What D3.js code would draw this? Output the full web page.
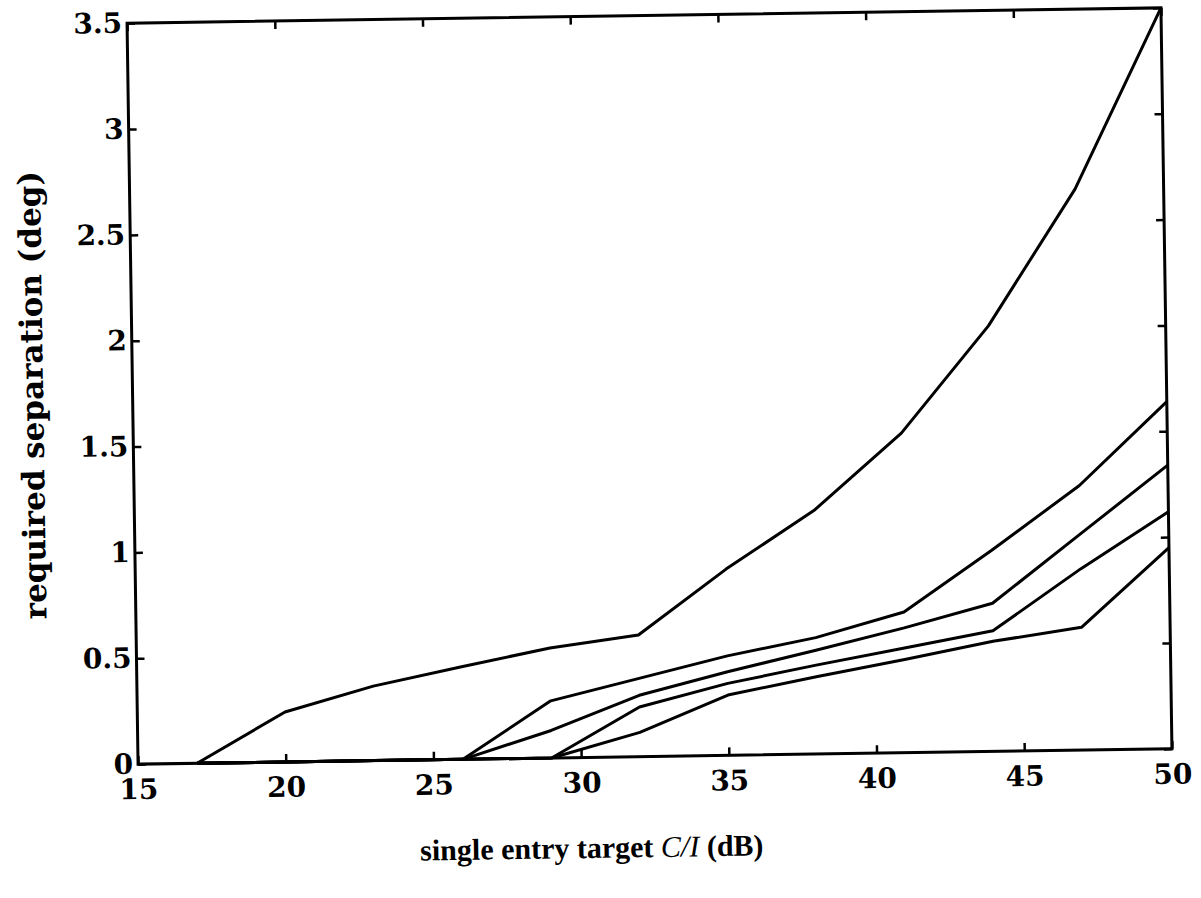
<!DOCTYPE html>
<html>
<head>
<meta charset="utf-8">
<script src="https://cdn.jsdelivr.net/npm/d3@7"></script>
<style>
  body { margin: 0; background: #fff; }
  svg { display: block; }
  .tick-label { font-family: 'DejaVu Serif', 'Liberation Serif', serif; font-weight: bold; fill: #000; }
</style>
</head>
<body>
<svg width="1201" height="898"></svg>
<script>
// C/I values (dB) where each curve is sampled
var ciValues = [17, 20, 23, 26, 29, 32, 35, 38, 41, 44, 47, 50];

// required separation (deg) for each curve
var curveA = [0, 0.236, 0.352, 0.437, 0.52, 0.575, 0.88, 1.15, 1.51, 2.01, 2.65, 3.5];
var curveB = [0, 0, 0, 0, 0.27, 0.37, 0.47, 0.55, 0.665, 0.95, 1.25, 1.64];
var curveC = [0, 0, 0, 0, 0.13, 0.29, 0.395, 0.49, 0.59, 0.70, 1.02, 1.34];
var curveD = [0, 0, 0, 0, 0, 0.235, 0.34, 0.42, 0.495, 0.57, 0.856, 1.12];
var curveE = [0, 0, 0, 0, 0, 0.115, 0.285, 0.365, 0.44, 0.52, 0.58, 0.95];

var xTickValues = [15, 20, 25, 30, 35, 40, 45, 50];
var yTickValues = [0, 0.5, 1, 1.5, 2, 2.5, 3, 3.5];

var svg = d3.select('svg');

// plot box (before the slight scan tilt)
var boxLeft = 132.5, boxRight = 1166.5, boxTop = 15.5, boxBottom = 756.5;
var cx = (boxLeft + boxRight) / 2, cy = (boxTop + boxBottom) / 2;

var x = d3.scaleLinear().domain([15, 50]).range([boxLeft, boxRight]);
var y = d3.scaleLinear().domain([0, 3.5]).range([boxBottom, boxTop]);

// whole figure is tilted a little like the scanned page
var g = svg.append('g')
  .attr('transform', 'rotate(-0.85,' + cx + ',' + cy + ')');

// bottom axis (ticks point inward)
g.append('g')
  .attr('transform', 'translate(0,' + boxBottom + ')')
  .call(d3.axisBottom(x).tickValues(xTickValues).tickSize(-8).tickPadding(15).tickFormat(d3.format('d')));

// top axis, ticks only
g.append('g')
  .attr('transform', 'translate(0,' + boxTop + ')')
  .call(d3.axisTop(x).tickValues(xTickValues).tickSize(-8).tickFormat(''));

// left axis
g.append('g')
  .attr('transform', 'translate(' + boxLeft + ',0)')
  .call(d3.axisLeft(y).tickValues(yTickValues).tickSize(-8).tickPadding(5).tickFormat(function (d) { return d; }));

// right axis, ticks only
g.append('g')
  .attr('transform', 'translate(' + boxRight + ',0)')
  .call(d3.axisRight(y).tickValues(yTickValues).tickSize(-8).tickFormat(''));

g.selectAll('.domain').remove();
g.selectAll('.tick line').attr('stroke', '#000').attr('stroke-width', 2.5);
g.selectAll('.tick text')
  .attr('class', 'tick-label')
  .style('font-size', '28px');

// frame
g.append('rect')
  .attr('x', boxLeft)
  .attr('y', boxTop)
  .attr('width', boxRight - boxLeft)
  .attr('height', boxBottom - boxTop)
  .attr('fill', 'none')
  .attr('stroke', '#000')
  .attr('stroke-width', 3);

// curves
var curves = [curveA, curveB, curveC, curveD, curveE];
var line = d3.line()
  .x(function (d, i) { return x(ciValues[i]); })
  .y(function (d) { return y(d); });

g.append('g')
  .selectAll('path')
  .data(curves)
  .enter()
  .append('path')
  .attr('d', line)
  .attr('fill', 'none')
  .attr('stroke', '#000')
  .attr('stroke-width', 3)
  .attr('stroke-linejoin', 'round');

// axis titles
var xTitle = g.append('text')
  .attr('x', 585)
  .attr('y', 857)
  .attr('text-anchor', 'middle')
  .style('font-family', "'Liberation Serif', serif")
  .style('font-weight', 'bold')
  .style('font-size', '30px');
xTitle.append('tspan').text('single entry target ');
xTitle.append('tspan').style('font-style', 'italic').style('font-weight', 'normal').text('C/I');
xTitle.append('tspan').text(' (dB)');

g.append('text')
  .attr('transform', 'translate(43,386) rotate(-90)')
  .attr('text-anchor', 'middle')
  .style('font-family', "'DejaVu Serif', serif")
  .style('font-weight', 'bold')
  .style('font-size', '31px')
  .text('required separation (deg)');
</script>
</body>
</html>
